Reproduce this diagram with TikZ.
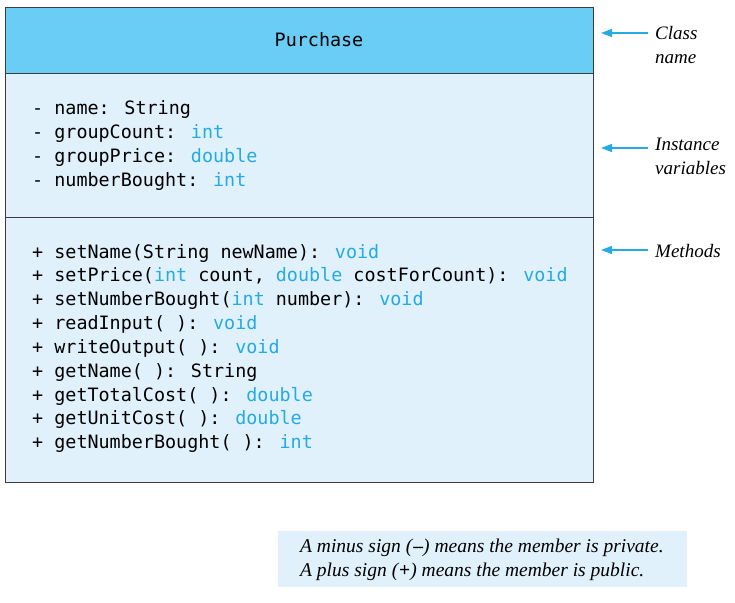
\documentclass[tikz,border=0pt]{standalone}
\usepackage{fontspec}
\setmainfont{Liberation Serif}
\newfontfamily\codefont{DejaVu Sans Mono}
\usetikzlibrary{arrows.meta}
\definecolor{headfill}{RGB}{106,205,245}
\definecolor{bodyfill}{RGB}{224,241,251}
\definecolor{kw}{RGB}{38,170,228}
\definecolor{boxline}{RGB}{60,60,60}
\newcommand{\kwd}[1]{\textcolor{kw}{#1}}
\tikzset{
  x=1pt, y=-1pt,
  codeline/.style={anchor=base west, inner sep=0pt, font=\codefont\fontsize{18.4}{22}\selectfont},
  lbl/.style={anchor=west, inner sep=0pt, align=left, font=\itshape\fontsize{19}{24}\selectfont},
  pointer/.style={draw=kw, line width=1.3pt, -{Triangle[length=11pt,width=8pt]}},
}
\begin{document}
\begin{tikzpicture}
\useasboundingbox (0,0) rectangle (735,602);
% class box
\path[fill=headfill] (5,8) rectangle (593,73);
\path[fill=bodyfill] (5,73) rectangle (593,482);
\draw[boxline, line width=1pt] (5,8) rectangle (593,482);
\draw[boxline, line width=1pt] (5,73) -- (593,73);
\draw[boxline, line width=1pt] (5,217) -- (593,217);
\node[anchor=base, inner sep=0pt, font=\codefont\fontsize{18.4}{22}\selectfont] (cname) at (319,47) {Purchase};
% attributes
\node[codeline] (a1) at (32,114) {- name: String};
\node[codeline] (a2) at (32,138) {- groupCount: \kwd{int}};
\node[codeline] (a3) at (32,162) {- groupPrice: \kwd{double}};
\node[codeline] (a4) at (32,186) {- numberBought: \kwd{int}};
% methods
\node[codeline] (m1) at (32,258) {+ setName(String newName): \kwd{void}};
\node[codeline] (m2) at (32,281) {+ setPrice(\kwd{int} count, \kwd{double} costForCount): \kwd{void}};
\node[codeline] (m3) at (32,305) {+ setNumberBought(\kwd{int} number): \kwd{void}};
\node[codeline] (m4) at (32,329) {+ readInput( ): \kwd{void}};
\node[codeline] (m5) at (32,353) {+ writeOutput( ): \kwd{void}};
\node[codeline] (m6) at (32,377) {+ getName( ): String};
\node[codeline] (m7) at (32,401) {+ getTotalCost( ): \kwd{double}};
\node[codeline] (m8) at (32,424) {+ getUnitCost( ): \kwd{double}};
\node[codeline] (m9) at (32,448) {+ getNumberBought( ): \kwd{int}};
% side labels
\node[lbl] (l1) at (655,45) {Class\\name};
\node[lbl] (l2) at (655,156) {Instance\\variables};
\node[lbl] (l3) at (655,251) {Methods};
\coordinate (t1) at (601,33);
\coordinate (t2) at (601,148);
\coordinate (t3) at (601,250);
\draw[pointer] (648,33) -- (t1);
\draw[pointer] (648,148) -- (t2);
\draw[pointer] (648,250) -- (t3);
% note
\node[fill=bodyfill, minimum width=409pt, minimum height=56pt, inner sep=0pt] (note) at (482.5,559) {};
\node[anchor=west, inner sep=0pt, align=left, font=\itshape\fontsize{19.5}{24}\selectfont] (notetext) at (300,560)
  {A minus sign ({\upshape\textbf{–}}) means the member is private.\\A plus sign ({\upshape\textbf{+}}) means the member is public.};
\end{tikzpicture}
\end{document}
